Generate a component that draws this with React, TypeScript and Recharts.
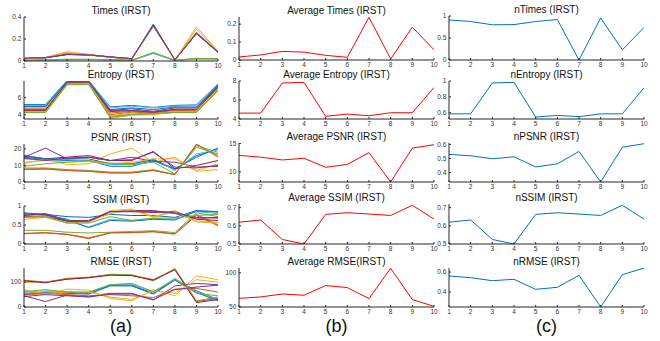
import { LineChart, Line, XAxis, YAxis } from 'recharts';

// x positions (run index)
const runs = [1, 2, 3, 4, 5, 6, 7, 8, 9, 10];
const matlabColors = ['#0072BD', '#D95319', '#EDB120', '#7E2F8E', '#77AC30', '#4DBEEE', '#A2142F'];

// column (a): one line per method
const timesRuns = [
  [0.022, 0.03, 0.06, 0.056, 0.036, 0.02, 0.335, 0.01, 0.25, 0.085],
  [0.005, 0.008, 0.012, 0.014, 0.01, 0.006, 0.07, 0.005, 0.02, 0.018],
  [0.02, 0.032, 0.085, 0.06, 0.035, 0.018, 0.32, 0.008, 0.31, 0.09],
  [0.025, 0.032, 0.062, 0.058, 0.038, 0.022, 0.325, 0.012, 0.255, 0.08],
  [0.006, 0.01, 0.015, 0.015, 0.011, 0.006, 0.075, 0.005, 0.022, 0.02],
  [0.004, 0.007, 0.01, 0.012, 0.009, 0.005, 0.068, 0.004, 0.018, 0.016],
  [0.022, 0.03, 0.062, 0.055, 0.036, 0.02, 0.32, 0.01, 0.25, 0.082],
  [0.02, 0.028, 0.058, 0.054, 0.034, 0.019, 0.33, 0.009, 0.248, 0.078],
  [0.021, 0.03, 0.07, 0.057, 0.035, 0.02, 0.318, 0.01, 0.26, 0.085],
  [0.02, 0.03, 0.075, 0.058, 0.034, 0.019, 0.315, 0.01, 0.29, 0.088],
  [0.024, 0.031, 0.06, 0.056, 0.037, 0.021, 0.322, 0.011, 0.252, 0.079],
  [0.006, 0.01, 0.016, 0.016, 0.012, 0.006, 0.078, 0.006, 0.025, 0.021],
];
const entropyRuns = [
  [5.2, 5.2, 8.0, 8.0, 4.9, 5.1, 4.85, 5.1, 5.15, 7.6],
  [4.7, 4.7, 7.8, 7.9, 4.0, 4.3, 4.2, 4.5, 4.5, 7.2],
  [4.8, 4.8, 7.7, 7.8, 3.55, 3.95, 4.0, 4.3, 4.3, 7.0],
  [5.0, 5.0, 7.9, 7.95, 4.5, 4.7, 4.4, 4.8, 4.8, 7.4],
  [4.25, 4.25, 7.5, 7.55, 3.7, 4.0, 4.1, 4.25, 4.25, 6.8],
  [5.1, 5.1, 7.95, 8.0, 4.8, 5.0, 4.8, 5.0, 5.05, 7.5],
  [4.5, 4.5, 7.7, 7.8, 4.4, 4.5, 4.3, 4.6, 4.6, 7.2],
  [4.95, 4.95, 7.9, 7.95, 4.6, 4.8, 4.6, 4.9, 4.9, 7.45],
  [4.6, 4.6, 7.75, 7.85, 4.2, 4.4, 4.3, 4.6, 4.6, 7.25],
  [4.4, 4.4, 7.6, 7.7, 3.9, 4.2, 4.1, 4.4, 4.4, 7.0],
  [4.55, 4.55, 7.8, 7.85, 4.4, 4.5, 4.3, 4.65, 4.65, 7.3],
  [4.3, 4.3, 7.55, 7.6, 3.8, 4.05, 4.15, 4.3, 4.3, 6.9],
];
const psnrRuns = [
  [15, 13.5, 13, 13, 9.5, 9.5, 13, 7.5, 16, 20],
  [7.5, 7.8, 7, 6.5, 5.5, 5.5, 7, 4.5, 22.5, 16],
  [11, 14, 10.5, 11, 17, 20.5, 12, 15, 6.5, 7.5],
  [15, 20.5, 14, 15, 13, 15, 12.5, 12, 9, 9.5],
  [8.5, 8.5, 7.5, 7, 6, 6, 7.5, 4.5, 22, 18],
  [14, 13, 13.5, 12.5, 10.5, 10.5, 14, 7, 17, 19.5],
  [16, 14, 15, 16, 13, 13, 18.5, 8, 10, 13],
  [16, 14, 14, 14, 11, 11, 13.5, 8, 15, 20.5],
  [7.8, 8, 7, 6.5, 5.5, 5.5, 7, 4.5, 23, 15],
  [12, 13, 12, 12.5, 11, 12, 14, 14, 7, 11],
  [14.5, 13, 14.5, 15, 13, 13.5, 18, 9, 8.5, 10],
  [9.5, 11, 12, 13, 11.5, 10.5, 12, 5, 21, 17],
];
const ssimRuns = [
  [0.82, 0.78, 0.72, 0.7, 0.78, 0.75, 0.75, 0.7, 0.88, 0.85],
  [0.28, 0.3, 0.26, 0.16, 0.3, 0.3, 0.33, 0.27, 0.78, 0.5],
  [0.65, 0.7, 0.55, 0.6, 0.88, 0.92, 0.72, 0.88, 0.6, 0.58],
  [0.75, 0.8, 0.62, 0.62, 0.85, 0.88, 0.88, 0.8, 0.68, 0.7],
  [0.36, 0.36, 0.31, 0.29, 0.31, 0.33, 0.35, 0.3, 0.82, 0.72],
  [0.78, 0.75, 0.6, 0.45, 0.65, 0.62, 0.68, 0.65, 0.85, 0.8],
  [0.72, 0.72, 0.6, 0.58, 0.85, 0.85, 0.83, 0.85, 0.65, 0.62],
  [0.8, 0.76, 0.65, 0.43, 0.62, 0.6, 0.65, 0.63, 0.87, 0.84],
  [0.27, 0.29, 0.25, 0.14, 0.29, 0.3, 0.32, 0.26, 0.75, 0.48],
  [0.7, 0.72, 0.56, 0.58, 0.8, 0.9, 0.7, 0.85, 0.58, 0.55],
  [0.76, 0.78, 0.6, 0.6, 0.85, 0.86, 0.86, 0.82, 0.7, 0.68],
  [0.7, 0.72, 0.55, 0.55, 0.72, 0.62, 0.68, 0.68, 0.75, 0.78],
];
const rmseRuns = [
  [55, 60, 60, 55, 88, 88, 55, 112, 65, 30],
  [108, 100, 115, 120, 130, 128, 110, 152, 22, 35],
  [70, 48, 72, 68, 35, 25, 70, 45, 125, 110],
  [45, 22, 48, 42, 55, 55, 28, 85, 95, 90],
  [100, 100, 112, 118, 132, 130, 105, 155, 25, 40],
  [60, 65, 62, 58, 90, 92, 60, 115, 62, 28],
  [105, 98, 112, 118, 128, 126, 108, 150, 18, 30],
  [50, 58, 55, 52, 85, 85, 52, 108, 58, 25],
  [48, 55, 50, 45, 50, 45, 38, 72, 75, 60],
  [65, 55, 60, 60, 40, 30, 65, 55, 110, 100],
  [42, 50, 45, 40, 52, 52, 30, 70, 80, 88],
  [62, 70, 60, 60, 90, 95, 62, 110, 55, 45],
];

// column (b): averages
const avgTimes = [0.017, 0.028, 0.048, 0.044, 0.026, 0.015, 0.238, 0.006, 0.183, 0.057];
const avgEntropy = [4.62, 4.62, 7.79, 7.86, 4.28, 4.52, 4.34, 4.66, 4.66, 7.31];
const avgPsnr = [12.9, 12.6, 12.1, 12.4, 10.8, 11.3, 13.4, 8.2, 14.2, 14.8];
const avgSsim = [0.62, 0.632, 0.525, 0.5, 0.663, 0.672, 0.665, 0.657, 0.713, 0.637];
const avgRmse = [62.7, 64.7, 69, 67.2, 81.4, 78.4, 62.3, 106.5, 60.8, 51];

// column (c): normalised
const nTimes = [0.91, 0.875, 0.8, 0.805, 0.875, 0.92, 0, 0.955, 0.23, 0.74];
const nEntropy = [0.585, 0.585, 0.975, 0.983, 0.545, 0.565, 0.55, 0.585, 0.585, 0.915];
const nPsnr = [0.529, 0.519, 0.498, 0.512, 0.44, 0.462, 0.55, 0.333, 0.58, 0.605];
const nSsim = [0.62, 0.632, 0.525, 0.5, 0.663, 0.672, 0.665, 0.657, 0.713, 0.637];
const nRmse = [0.56, 0.543, 0.513, 0.527, 0.427, 0.447, 0.567, 0.25, 0.573, 0.64];

const FONT = '"Liberation Sans", Arial, Helvetica, sans-serif';
const AXIS = '#262626';
const L = 28;
const R = 6;
const T = 3;
const B = 12;

type PanelProps = {
  box: [number, number, number, number];
  title: string;
  series: number[][];
  colors: string[];
  domain: [number, number];
  yTicks: number[];
};

function Panel({ box, title, series, colors, domain, yTicks }: PanelProps) {
  const [x0, y0, x1, y1] = box;
  const data = runs.map((x, i) => {
    const row: Record<string, number> = { x };
    series.forEach((s, k) => {
      row['s' + k] = s[i];
    });
    return row;
  });
  const tickStyle = { fontSize: 6.5, fill: '#333', fontFamily: FONT };
  return (
    <>
      <div style={{ position: 'absolute', left: x0 - L, top: y0 - T }}>
        <LineChart
          width={x1 - x0 + L + R}
          height={y1 - y0 + T + B}
          data={data}
          margin={{ top: T, right: R, bottom: 0, left: 0 }}
        >
          <XAxis
            xAxisId="b"
            dataKey="x"
            type="number"
            domain={[1, 10]}
            ticks={runs}
            interval={0}
            allowDataOverflow
            height={B}
            tickSize={-2}
            tickMargin={4.5}
            tick={tickStyle}
            stroke={AXIS}
          />
          <XAxis
            xAxisId="t"
            orientation="top"
            dataKey="x"
            type="number"
            domain={[1, 10]}
            ticks={runs}
            interval={0}
            allowDataOverflow
            height={0}
            tickSize={-2}
            tick={false}
            stroke={AXIS}
          />
          <YAxis
            yAxisId="l"
            type="number"
            domain={domain}
            ticks={yTicks}
            interval={0}
            allowDataOverflow
            width={L}
            tickSize={-2}
            tickMargin={4.7}
            tick={tickStyle}
            stroke={AXIS}
          />
          <YAxis
            yAxisId="r"
            orientation="right"
            type="number"
            domain={domain}
            ticks={yTicks}
            interval={0}
            allowDataOverflow
            width={0}
            tickSize={-2}
            tick={false}
            stroke={AXIS}
          />
          {series.map((_, k) => (
            <Line
              key={k}
              xAxisId="b"
              yAxisId="l"
              type="linear"
              dataKey={'s' + k}
              stroke={colors[k % colors.length]}
              strokeWidth={1}
              dot={false}
              isAnimationActive={false}
            />
          ))}
        </LineChart>
      </div>
      <div
        style={{
          position: 'absolute',
          left: x0,
          width: x1 - x0,
          top: y0 - 11.3,
          textAlign: 'center',
          fontFamily: FONT,
          fontSize: 10,
          lineHeight: '10px',
          color: '#111',
          whiteSpace: 'nowrap',
        }}
      >
        {title}
      </div>
    </>
  );
}

const colA: [number, number] = [24, 218];
const colB: [number, number] = [239, 434];
const colC: [number, number] = [449, 644];

function Caption({ text, cx }: { text: string; cx: number }) {
  return (
    <div
      style={{
        position: 'absolute',
        left: cx - 30,
        width: 60,
        top: 316,
        textAlign: 'center',
        fontFamily: FONT,
        fontSize: 18,
        lineHeight: '20px',
        color: '#111',
      }}
    >
      {text}
    </div>
  );
}

export default function App() {
  const red = ['#FF0000'];
  const blue = ['#0072BD'];
  return (
    <div style={{ position: 'absolute', left: 0, top: 0, width: 660, height: 341, background: '#fff', overflow: 'hidden' }}>
      <Panel box={[colA[0], 17, colA[1], 61]} title="Times (IRST)" series={timesRuns} colors={matlabColors} domain={[0, 0.4]} yTicks={[0, 0.2, 0.4]} />
      <Panel box={[colA[0], 81, colA[1], 119]} title="Entropy (IRST)" series={entropyRuns} colors={matlabColors} domain={[3.5, 7.95]} yTicks={[4, 6]} />
      <Panel box={[colA[0], 144, colA[1], 182]} title="PSNR (IRST)" series={psnrRuns} colors={matlabColors} domain={[0, 23]} yTicks={[0, 10, 20]} />
      <Panel box={[colA[0], 206, colA[1], 244]} title="SSIM (IRST)" series={ssimRuns} colors={matlabColors} domain={[0, 1]} yTicks={[0, 0.5, 1]} />
      <Panel box={[colA[0], 268, colA[1], 307]} title="RMSE (IRST)" series={rmseRuns} colors={matlabColors} domain={[0, 157]} yTicks={[0, 100]} />

      <Panel box={[colB[0], 17, colB[1], 60]} title="Average Times (IRST)" series={[avgTimes]} colors={red} domain={[0, 0.24]} yTicks={[0, 0.1, 0.2]} />
      <Panel box={[colB[0], 81, colB[1], 119]} title="Average Entropy (IRST)" series={[avgEntropy]} colors={red} domain={[4, 8]} yTicks={[4, 6, 8]} />
      <Panel box={[colB[0], 143, colB[1], 182]} title="Average PSNR (IRST)" series={[avgPsnr]} colors={red} domain={[8.2, 15.1]} yTicks={[10, 15]} />
      <Panel box={[colB[0], 204, colB[1], 244]} title="Average SSIM (IRST)" series={[avgSsim]} colors={red} domain={[0.5, 0.72]} yTicks={[0.5, 0.6, 0.7]} />
      <Panel box={[colB[0], 268, colB[1], 307]} title="Average RMSE(IRST)" series={[avgRmse]} colors={red} domain={[50, 107]} yTicks={[50, 100]} />

      <Panel box={[colC[0], 16, colC[1], 60]} title="nTimes (IRST)" series={[nTimes]} colors={blue} domain={[0, 1]} yTicks={[0, 0.5, 1]} />
      <Panel box={[colC[0], 81, colC[1], 119]} title="nEntropy (IRST)" series={[nEntropy]} colors={blue} domain={[0.52, 1]} yTicks={[0.6, 0.8, 1]} />
      <Panel box={[colC[0], 143, colC[1], 182]} title="nPSNR (IRST)" series={[nPsnr]} colors={blue} domain={[0.333, 0.61]} yTicks={[0.4, 0.5, 0.6]} />
      <Panel box={[colC[0], 204, colC[1], 244]} title="nSSIM (IRST)" series={[nSsim]} colors={blue} domain={[0.5, 0.72]} yTicks={[0.5, 0.6, 0.7]} />
      <Panel box={[colC[0], 268, colC[1], 307]} title="nRMSE (IRST)" series={[nRmse]} colors={blue} domain={[0.25, 0.64]} yTicks={[0.4, 0.6]} />

      <Caption text="(a)" cx={121} />
      <Caption text="(b)" cx={336.5} />
      <Caption text="(c)" cx={546.5} />
    </div>
  );
}
